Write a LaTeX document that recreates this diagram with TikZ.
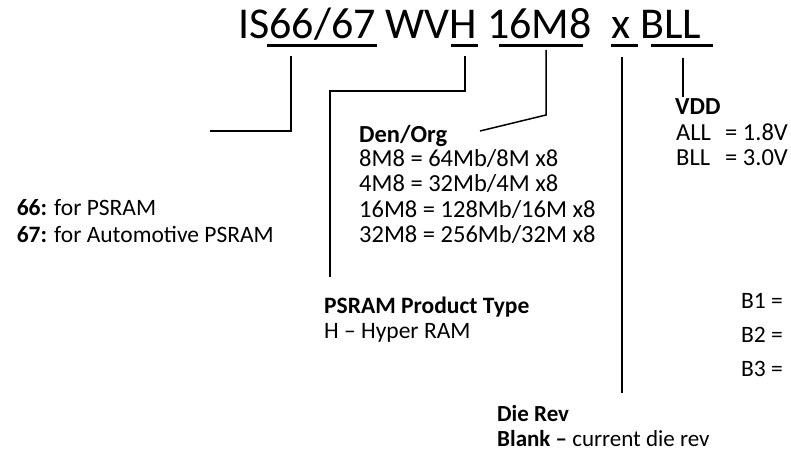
\documentclass[tikz,border=0pt]{standalone}
\usepackage{fontspec}
\setmainfont{Carlito}
\begin{document}
\begin{tikzpicture}[x=1pt,y=-1pt,
  txt/.style={inner sep=0pt, anchor=base west, font=\fontsize{23.5}{25}\selectfont},
  txtl/.style={txt, font=\fontsize{24.5}{25}\selectfont},
  txts/.style={txt, font=\fontsize{23}{25}\selectfont},
  ttl/.style={inner sep=0pt, anchor=base west, font=\fontsize{44}{50}\selectfont},
  uline/.style={line width=3pt},
  conn/.style={line width=1.5pt}]
\useasboundingbox (0,0) rectangle (791,462);
% title
\node[ttl] (title) at (238,39) {IS66/67 WVH 16M8\ \ x BLL};
% underlines
\draw[uline] (267,46) coordinate (u1a) -- (377,46) coordinate (u1b);
\draw[uline] (451,46) coordinate (u2a) -- (478,46) coordinate (u2b);
\draw[uline] (499,46) coordinate (u3a) -- (583,46) coordinate (u3b);
\draw[uline] (611,46) coordinate (u4a) -- (638,46) coordinate (u4b);
\draw[uline] (651,46) coordinate (u5a) -- (713,46) coordinate (u5b);
% connector end points
\coordinate (c1top) at (291,56);
\coordinate (c1end) at (210,131);
\coordinate (c2top) at (465,56);
\coordinate (c2end) at (330,277);
\coordinate (c3top) at (546,50);
\coordinate (c3end) at (480,131);
\coordinate (c4top) at (622,57);
\coordinate (c4end) at (622,393);
\coordinate (c5top) at (683,58);
\coordinate (c5end) at (683,97);
% texts
\node[txt,anchor=base east] (l67) at (274,242) {\textbf{67:} for Automotive PSRAM};
\coordinate (y215) at (0,215);
\node[txt] (l66) at (l67.base west |- y215) {\textbf{66:} for PSRAM};
\node[txtl] (den) at (359,143) {\textbf{Den/Org}};
\node[txtl] (d1) at (359,167) {8M8 = 64Mb/8M x8};
\node[txtl] (d2) at (359,192) {4M8 = 32Mb/4M x8};
\node[txtl] (d3) at (359,217) {16M8 = 128Mb/16M x8};
\node[txtl] (d4) at (359,242) {32M8 = 256Mb/32M x8};
\node[txtl] (vdd) at (675,115) {\textbf{VDD}};
\node[txtl] (all) at (676,141) {\makebox[49pt][l]{ALL}= 1.8V};
\node[txtl] (bll) at (676,166) {\makebox[49pt][l]{BLL}= 3.0V};
\node[txt] (pt) at (324,313) {\textbf{PSRAM Product Type}};
\node[txt] (hr) at (324,338) {H – Hyper RAM};
\node[txt] (b1) at (741,308) {B1 =};
\node[txt] (b2) at (741,342) {B2 =};
\node[txt] (b3) at (741,376) {B3 =};
\node[txts] (die) at (497,421) {\textbf{Die Rev}};
\node[txts] (blank) at (497,446) {\textbf{Blank –} current die rev};
% connectors
\draw[conn] (c1top) |- (c1end);
\draw[conn] (c2top) -- ++(0,35) -| (c2end);
\draw[conn] (c3top) -- ++(0,65) -- (c3end);
\draw[conn] (c4top) -- (c4end);
\draw[conn] (c5top) -- (c5end);
\end{tikzpicture}
\end{document}
